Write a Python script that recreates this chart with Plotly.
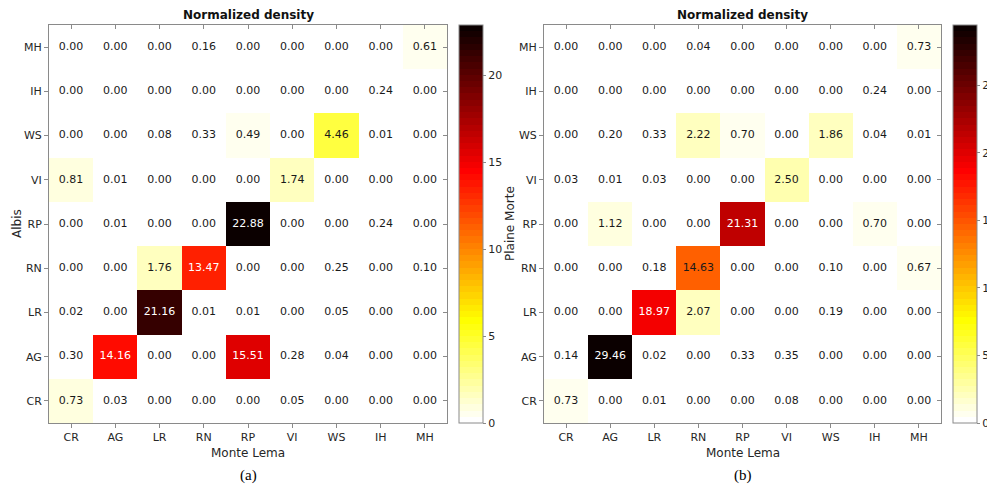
import plotly.graph_objects as go

cats = ["CR", "AG", "LR", "RN", "RP", "VI", "WS", "IH", "MH"]

# rows: y category (bottom CR ... top MH), columns: x category (CR ... MH)
dens_albis = [
    [0.73, 0.03, 0.00, 0.00, 0.00, 0.05, 0.00, 0.00, 0.00],
    [0.30, 14.16, 0.00, 0.00, 15.51, 0.28, 0.04, 0.00, 0.00],
    [0.02, 0.00, 21.16, 0.01, 0.01, 0.00, 0.05, 0.00, 0.00],
    [0.00, 0.00, 1.76, 13.47, 0.00, 0.00, 0.25, 0.00, 0.10],
    [0.00, 0.01, 0.00, 0.00, 22.88, 0.00, 0.00, 0.24, 0.00],
    [0.81, 0.01, 0.00, 0.00, 0.00, 1.74, 0.00, 0.00, 0.00],
    [0.00, 0.00, 0.08, 0.33, 0.49, 0.00, 4.46, 0.01, 0.00],
    [0.00, 0.00, 0.00, 0.00, 0.00, 0.00, 0.00, 0.24, 0.00],
    [0.00, 0.00, 0.00, 0.16, 0.00, 0.00, 0.00, 0.00, 0.61],
]

dens_plaine = [
    [0.73, 0.00, 0.01, 0.00, 0.00, 0.08, 0.00, 0.00, 0.00],
    [0.14, 29.46, 0.02, 0.00, 0.33, 0.35, 0.00, 0.00, 0.00],
    [0.00, 0.00, 18.97, 2.07, 0.00, 0.00, 0.19, 0.00, 0.00],
    [0.00, 0.00, 0.18, 14.63, 0.00, 0.00, 0.10, 0.00, 0.67],
    [0.00, 1.12, 0.00, 0.00, 21.31, 0.00, 0.00, 0.70, 0.00],
    [0.03, 0.01, 0.03, 0.00, 0.00, 2.50, 0.00, 0.00, 0.00],
    [0.00, 0.20, 0.33, 2.22, 0.70, 0.00, 1.86, 0.04, 0.01],
    [0.00, 0.00, 0.00, 0.00, 0.00, 0.00, 0.00, 0.24, 0.00],
    [0.00, 0.00, 0.00, 0.04, 0.00, 0.00, 0.00, 0.00, 0.73],
]

x_title = "Monte Lema"
y_titles = ["Albis", "Plaine Morte"]
panel_titles = ["Normalized density", "Normalized density"]
captions = ["(a)", "(b)"]

# ---- reversed MATLAB "hot" colormap, 64 discrete levels ----
m = 64
n = int(3 * m / 8)
hot = []
for i in range(m):
    r = min((i + 1) / n, 1.0)
    g = 0.0 if i < n else min((i - n + 1) / n, 1.0)
    b = 0.0 if i < 2 * n else (i - 2 * n + 1) / (m - 2 * n)
    hot.append((r, g, b))
hot = hot[::-1]
cscale = []
for i, (r, g, b) in enumerate(hot):
    col = "rgb(%d,%d,%d)" % (round(r * 255), round(g * 255), round(b * 255))
    cscale.append([i / m, col])
    cscale.append([(i + 1) / m, col])

# page has an 8px body margin: figure is sized / positioned to compensate
OFF = 8
W, H = 995 - OFF, 487 - OFF


def px(x):
    return (x - OFF) / W


def py(y):
    return 1 - (y - OFF) / H


panels = [
    dict(left=49, right=447, cb=459),
    dict(left=544, right=941, cb=953),
]
top, bottom = 25, 423
font_fam = "DejaVu Sans"
tick_col = "#262626"
axis_col = "#8a8a8a"

fig = go.Figure()
annotations = []
layout_axes = {}

for k, (data, p) in enumerate(zip([dens_albis, dens_plaine], panels)):
    xa = "x" if k == 0 else "x%d" % (k + 1)
    ya = "y" if k == 0 else "y%d" % (k + 1)
    zmax = max(max(row) for row in data)
    cb_len = (bottom - top) / H
    cb_y = py((top + bottom) / 2)
    fig.add_trace(go.Heatmap(
        z=data, x=cats, y=cats, xaxis=xa, yaxis=ya,
        colorscale=cscale, zmin=0, zmax=zmax,
        hoverinfo="skip",
        colorbar=dict(
            x=px(p["cb"]), xanchor="left", xpad=0, ypad=0,
            y=cb_y, yanchor="middle", len=cb_len, lenmode="fraction",
            thickness=24, thicknessmode="pixels",
            outlinecolor=axis_col, outlinewidth=1,
            tickmode="linear", tick0=0, dtick=5,
            ticks="outside", ticklen=3, tickcolor=axis_col,
            tickfont=dict(family=font_fam, size=11, color=tick_col),
        ),
    ))
    # cell labels
    xs, ys, txt, cols = [], [], [], []
    for i, row in enumerate(data):
        for j, v in enumerate(row):
            xs.append(cats[j])
            ys.append(cats[i])
            txt.append("%.2f" % v)
            cols.append("white" if v / zmax > 0.55 else "#1a1a1a")
    fig.add_trace(go.Scatter(
        x=xs, y=ys, text=txt, mode="text", xaxis=xa, yaxis=ya,
        textfont=dict(family=font_fam, size=11, color=cols),
        hoverinfo="skip", showlegend=False,
    ))
    dom_x = [px(p["left"]), px(p["right"])]
    dom_y = [py(bottom), py(top)]
    axkey_x = "xaxis" if k == 0 else "xaxis%d" % (k + 1)
    axkey_y = "yaxis" if k == 0 else "yaxis%d" % (k + 1)
    layout_axes[axkey_x] = dict(
        domain=dom_x, anchor=ya, type="category", categoryarray=cats,
        range=[-0.5, 8.5], showgrid=False, zeroline=False,
        showline=True, linecolor=axis_col, linewidth=1, mirror=True,
        ticks="outside", ticklen=4, tickcolor=axis_col,
        tickfont=dict(family=font_fam, size=11, color=tick_col),
    )
    layout_axes[axkey_y] = dict(
        domain=dom_y, anchor=xa, type="category", categoryarray=cats,
        range=[-0.5, 8.5], showgrid=False, zeroline=False,
        showline=True, linecolor=axis_col, linewidth=1, mirror=True,
        ticks="outside", ticklen=4, tickcolor=axis_col,
        tickfont=dict(family=font_fam, size=11, color=tick_col),
    )
    # inside ticks on top and right edges
    ox = "xaxis%d" % (k + 3)
    oy = "yaxis%d" % (k + 3)
    layout_axes[ox] = dict(
        domain=dom_x, anchor=ya, overlaying=xa, side="top",
        range=[-0.5, 8.5], tickmode="array", tickvals=list(range(9)),
        showticklabels=False, ticks="inside", ticklen=4, tickcolor=axis_col,
        showgrid=False, zeroline=False, showline=False,
    )
    layout_axes[oy] = dict(
        domain=dom_y, anchor=xa, overlaying=ya, side="right",
        range=[-0.5, 8.5], tickmode="array", tickvals=list(range(9)),
        showticklabels=False, ticks="inside", ticklen=4, tickcolor=axis_col,
        showgrid=False, zeroline=False, showline=False,
    )
    # invisible traces to activate overlay axes
    fig.add_trace(go.Scatter(x=[0], y=[0], xaxis="x%d" % (k + 3), yaxis=ya,
                             mode="markers", marker=dict(opacity=0),
                             hoverinfo="skip", showlegend=False))
    fig.add_trace(go.Scatter(x=["CR"], y=[0], xaxis=xa, yaxis="y%d" % (k + 3),
                             mode="markers", marker=dict(opacity=0),
                             hoverinfo="skip", showlegend=False))

    cx = px((p["left"] + p["right"]) / 2)
    annotations += [
        dict(text="<b>%s</b>" % panel_titles[k], x=cx, y=py(15),
             xref="paper", yref="paper", showarrow=False,
             font=dict(family=font_fam, size=12, color="#111111"),
             xanchor="center", yanchor="middle"),
        dict(text=x_title, x=cx, y=py(453), xref="paper", yref="paper",
             showarrow=False, font=dict(family=font_fam, size=12, color=tick_col),
             xanchor="center", yanchor="middle"),
        dict(text=captions[k], x=cx, y=py(475), xref="paper", yref="paper",
             showarrow=False, font=dict(family="Liberation Serif", size=15, color="black"),
             xanchor="center", yanchor="middle"),
        dict(text=y_titles[k], x=px(17 if k == 0 else 510),
             y=py((top + bottom) / 2), xref="paper", yref="paper",
             showarrow=False, textangle=-90,
             font=dict(family=font_fam, size=12, color=tick_col),
             xanchor="center", yanchor="middle"),
    ]

fig.update_layout(
    width=W, height=H, margin=dict(l=0, r=0, t=0, b=0, autoexpand=False),
    paper_bgcolor="white", plot_bgcolor="white",
    showlegend=False, annotations=annotations, **layout_axes,
)

fig.write_html("out.html")
